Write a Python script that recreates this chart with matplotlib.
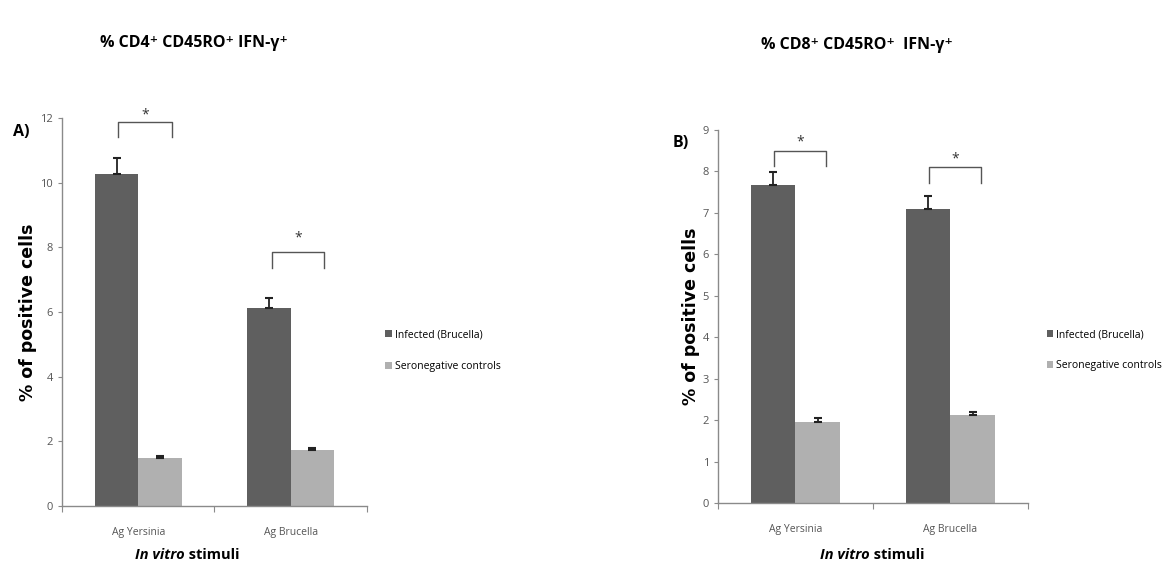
import matplotlib
matplotlib.use('Agg')
import matplotlib.pyplot as plt
from matplotlib import font_manager
import numpy as np

# datos
stimuli = ['Ag Yersinia', 'Ag Brucella']
groups = ['Infected (Brucella)', 'Seronegative controls']

cd4_infected = [10.27, 6.12]
cd4_infected_err = [0.50, 0.32]
cd4_seroneg = [1.48, 1.72]
cd4_seroneg_err = [0.07, 0.08]

cd8_infected = [7.67, 7.10]
cd8_infected_err = [0.31, 0.30]
cd8_seroneg = [1.96, 2.12]
cd8_seroneg_err = [0.09, 0.09]

# corchetes de significancia: (x0, x1, altura, bajada, altura del asterisco)
cd4_brackets = [(-0.13, 0.22, 11.88, 0.48, 12.1), (0.88, 1.22, 7.85, 0.48, 8.3)]
cd8_brackets = [(-0.14, 0.2, 8.5, 0.38, 8.72), (0.86, 1.2, 8.1, 0.37, 8.3)]


def pick_font(names):
    for n in names:
        try:
            font_manager.findfont(n, fallback_to_default=False)
            return n
        except Exception:
            pass
    return 'DejaVu Sans'


narrow = pick_font(['Liberation Sans Narrow', 'Open Sans', 'Roboto'])
fam = [narrow, 'DejaVu Sans']

dark = '#5f5f5f'
light = '#b0b0b0'
axis_col = '#8a8a8a'
tick_col = '#555555'

fig = plt.figure(figsize=(11.68, 5.70), dpi=100)

axA = fig.add_axes([0.0531, 0.1123, 0.261, 0.681])
axB = fig.add_axes([0.6147, 0.117, 0.2654, 0.655])


def draw_panel(ax, inf, inf_err, ser, ser_err, ymax, brackets):
    x = np.arange(len(stimuli))
    w = 0.285
    ax.bar(x - w / 2, inf, w, color=dark, label=groups[0], zorder=2)
    ax.bar(x + w / 2, ser, w, color=light, label=groups[1], zorder=2)
    ax.errorbar(x - w / 2, inf, yerr=[np.zeros(len(inf)), inf_err], fmt='none',
                ecolor='#222222', elinewidth=1.3, capsize=3, capthick=1.5, zorder=3)
    ax.errorbar(x + w / 2, ser, yerr=[np.zeros(len(ser)), ser_err], fmt='none',
                ecolor='#222222', elinewidth=1.3, capsize=3, capthick=1.5, zorder=3)
    ax.set_xlim(-0.5, 1.5)
    ax.set_ylim(0, ymax)
    ax.set_yticks(np.arange(0, ymax + 1, 2 if ymax > 10 else 1))
    ax.set_xticks([-0.5, 0.5, 1.5])
    ax.set_xticklabels([])
    ax.set_xticks(x, minor=True)
    ax.set_xticklabels(stimuli, minor=True, fontsize=7.5, color=tick_col, family=fam)
    ax.tick_params(axis='x', which='minor', length=0, pad=15)
    ax.tick_params(axis='x', which='major', length=4, color=axis_col, direction='out')
    ax.tick_params(axis='y', length=3, color=axis_col, labelsize=8, labelcolor=tick_col)
    for lab in ax.get_yticklabels():
        lab.set_family(fam)
    for s in ['top', 'right']:
        ax.spines[s].set_visible(False)
    for s in ['left', 'bottom']:
        ax.spines[s].set_color(axis_col)
        ax.spines[s].set_linewidth(1.0)
    for x0, x1, h, d, hs in brackets:
        ax.plot([x0, x0, x1, x1], [h - d, h, h, h - d], color='#555555', lw=1.0,
                clip_on=False)
        ax.text((x0 + x1) / 2, hs, '*', ha='center', va='center', fontsize=10,
                color='#333333', family=fam)
    ax.set_ylabel('% of positive cells', fontsize=12.5, fontweight='bold',
                  family='DejaVu Sans', labelpad=2)


draw_panel(axA, cd4_infected, cd4_infected_err, cd4_seroneg, cd4_seroneg_err, 12, cd4_brackets)
draw_panel(axB, cd8_infected, cd8_infected_err, cd8_seroneg, cd8_seroneg_err, 9, cd8_brackets)

axA.legend(loc='center left', bbox_to_anchor=(1.03, 0.40), frameon=False,
           handlelength=0.6, handleheight=0.6, handletextpad=0.3, labelspacing=2.0,
           prop={'family': fam, 'size': 7.5})
axB.legend(loc='center left', bbox_to_anchor=(1.03, 0.41), frameon=False,
           handlelength=0.6, handleheight=0.6, handletextpad=0.3, labelspacing=1.9,
           prop={'family': fam, 'size': 7.5})

# titulos y letras de panel
fig.text(194 / 1168, 1 - 43 / 570, '% CD4⁺ CD45RO⁺ IFN-γ⁺', ha='center', va='center',
         fontsize=11.5, fontweight='bold', family=fam)
fig.text(857 / 1168, 1 - 45 / 570, '% CD8⁺ CD45RO⁺  IFN-γ⁺', ha='center', va='center',
         fontsize=11.5, fontweight='bold', family=fam)
fig.text(21 / 1168, 1 - 132 / 570, 'A)', ha='center', va='center', fontsize=11.5,
         fontweight='bold', family=fam)
fig.text(681 / 1168, 1 - 143 / 570, 'B)', ha='center', va='center', fontsize=11.5,
         fontweight='bold', family=fam)

# etiqueta del eje x: "In vitro" en cursiva + "stimuli"
fig.canvas.draw()
r = fig.canvas.get_renderer()
for cx, cy in [(187, 555), (872, 555)]:
    t1 = fig.text(0, 1 - cy / 570, 'In vitro', fontsize=10.5, fontweight='bold',
                  style='italic', family=fam, va='center', ha='left')
    t2 = fig.text(0, 1 - cy / 570, ' stimuli', fontsize=10.5, fontweight='bold',
                  family=fam, va='center', ha='left')
    w1 = t1.get_window_extent(r).width
    w2 = t2.get_window_extent(r).width
    x0 = cx - (w1 + w2) / 2
    t1.set_x(x0 / 1168)
    t2.set_x((x0 + w1) / 1168)

fig.savefig('out.png', dpi=100)
